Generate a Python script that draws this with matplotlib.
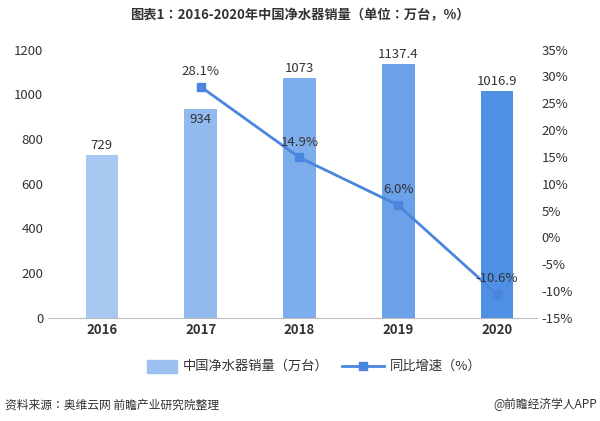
import matplotlib.pyplot as plt
import numpy as np

plt.rcParams['font.family'] = ['Noto Sans CJK SC', 'Noto Sans CJK JP', 'DejaVu Sans']

years = ['2016', '2017', '2018', '2019', '2020']
sales = [729, 934, 1073, 1137.4, 1016.9]
growth = [None, 28.1, 14.9, 6.0, -10.6]
sales_labels = ['729', '934', '1073', '1137.4', '1016.9']
bar_colors = ['#a8c8f2', '#92baef', '#7daeeb', '#6aa1e8', '#4f90e4']
line_color = '#4a86de'

fig = plt.figure(figsize=(6, 4.21), dpi=100)
ax = fig.add_axes([0.08, 0.245, 0.815, 0.637])
x = np.arange(len(years))
ax.bar(x, sales, width=0.33, color=bar_colors)
ax.set_ylim(0, 1200)
ax.set_yticks(range(0, 1201, 200))
ax.set_xlim(-0.545, 4.405)
ax.set_xticks(x)
ax.set_xticklabels(years, fontsize=9, fontweight='bold')
for i, v in enumerate(sales):
    dy = -60 if i == 1 else 25
    ax.text(x[i], v + dy, sales_labels[i], ha='center', fontsize=9.5, color='#333333')
ax.tick_params(axis='both', length=0, labelsize=9.5, colors='#333333')
for s in ['top', 'right', 'left']:
    ax.spines[s].set_visible(False)
ax.spines['bottom'].set_color('#bbbbbb')

ax2 = ax.twinx()
gx = x[1:]
gy = growth[1:]
ax2.plot(gx, gy, color=line_color, marker='s', markersize=6, linewidth=2)
ax2.set_ylim(-15, 35)
ax2.set_yticks(range(-15, 36, 5))
ax2.set_yticklabels([f'{t}%' for t in range(-15, 36, 5)])
ax2.tick_params(axis='y', length=0, labelsize=9.5, colors='#333333')
for s in ['top', 'right', 'left', 'bottom']:
    ax2.spines[s].set_visible(False)
for xi, yi in zip(gx, gy):
    ax2.text(xi, yi + 2.2, f'{yi:.1f}%', ha='center', fontsize=9.5, color='#333333')

# legend
fig.patches.append(plt.Rectangle((0.245, 0.115), 0.05, 0.03, color='#9cc0f0', transform=fig.transFigure))
fig.text(0.305, 0.13, '中国净水器销量（万台）', fontsize=9.5, va='center', color='#333333')
fig.lines.append(plt.Line2D([0.57, 0.64], [0.13, 0.13], color=line_color, lw=2, transform=fig.transFigure))
fig.lines.append(plt.Line2D([0.605], [0.13], color=line_color, marker='s', markersize=6, transform=fig.transFigure))
fig.text(0.65, 0.13, '同比增速（%）', fontsize=9.5, va='center', color='#333333')

fig.text(0.5, 0.955, '图表1：2016-2020年中国净水器销量（单位：万台，%）', ha='center',
         fontsize=9.5, fontweight='bold', color='#333333')
fig.text(0.008, 0.03, '资料来源：奥维云网 前瞻产业研究院整理', fontsize=8.5, color='#333333')
fig.text(0.995, 0.03, '@前瞻经济学人APP', fontsize=8.5, ha='right', color='#333333')

fig.savefig('out.png', dpi=100)
